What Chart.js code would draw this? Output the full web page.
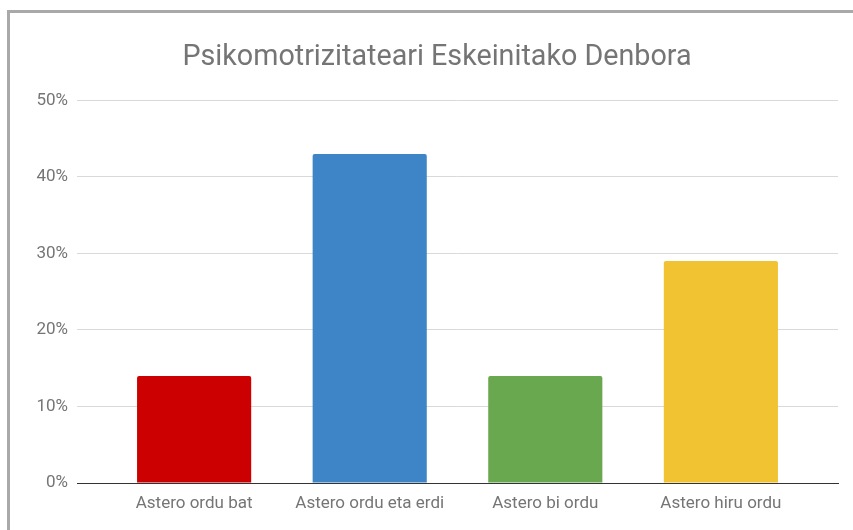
<!DOCTYPE html>
<html>
<head>
<meta charset="utf-8">
<script src="https://cdn.jsdelivr.net/npm/chart.js@4.4.1/dist/chart.umd.min.js"></script>
<style>
  html, body { margin: 0; padding: 0; background: #fff; overflow: hidden; }
  #frame {
    position: absolute; left: 7px; top: 10px;
    width: 854px; height: 540px;
    border: 3px solid #a9a9a9;
  }
  #chart { display: block; }
</style>
</head>
<body>
<div id="frame"><canvas id="chart" width="854" height="517"></canvas></div>
<script>
const titleText = 'Psikomotrizitateari Eskeinitako Denbora';
const categories = ['Astero ordu bat', 'Astero ordu eta erdi', 'Astero bi ordu', 'Astero hiru ordu'];
const values = [14, 43, 14, 29];
const barColors = ['#cc0000', '#3d85c6', '#6aa84f', '#f1c232'];
const yTicks = [0, 10, 20, 30, 40, 50];

// bars sit on a linear x axis so there is a gutter at both ends like google sheets
const points = values.map((v, i) => ({ x: i, y: v }));

const ctx = document.getElementById('chart').getContext('2d');
new Chart(ctx, {
  type: 'bar',
  data: {
    datasets: [{
      data: points,
      backgroundColor: barColors,
      borderRadius: { topLeft: 2, topRight: 2 },
      borderSkipped: 'bottom',
      categoryPercentage: 0.65,
      barPercentage: 1.0
    }]
  },
  options: {
    responsive: false,
    animation: false,
    // left padding shifts the title centre to match the frame
    layout: { padding: { left: 26, right: 26, top: 0, bottom: 0 } },
    plugins: {
      legend: { display: false },
      tooltip: { enabled: false },
      title: {
        display: true,
        text: titleText,
        color: '#757575',
        font: { family: 'Roboto', size: 28.7, weight: 'normal', lineHeight: 1.2 },
        padding: { top: 28, bottom: 25 }
      }
    },
    scales: {
      x: {
        type: 'linear',
        min: -0.667,
        max: categories.length - 1 + 0.667,
        offset: false,
        afterFit: (scale) => { scale.height = 47; },
        afterBuildTicks: (scale) => { scale.ticks = categories.map((c, i) => ({ value: i })); },
        grid: { display: false, drawTicks: false },
        border: { color: '#333333', width: 1 },
        ticks: {
          color: '#757575',
          font: { family: 'Roboto', size: 17 },
          padding: 11,
          maxRotation: 0,
          autoSkip: false,
          callback: (v) => categories[v]
        }
      },
      y: {
        min: 0,
        max: 50,
        afterFit: (scale) => { scale.width = 41; },
        afterBuildTicks: (scale) => { scale.ticks = yTicks.map(v => ({ value: v })); },
        grid: { color: '#d9d9d9', drawTicks: false },
        border: { display: false },
        ticks: {
          color: '#757575',
          font: { family: 'Roboto', size: 17 },
          padding: 9,
          callback: (v) => v + '%'
        }
      }
    }
  }
});
</script>
</body>
</html>
